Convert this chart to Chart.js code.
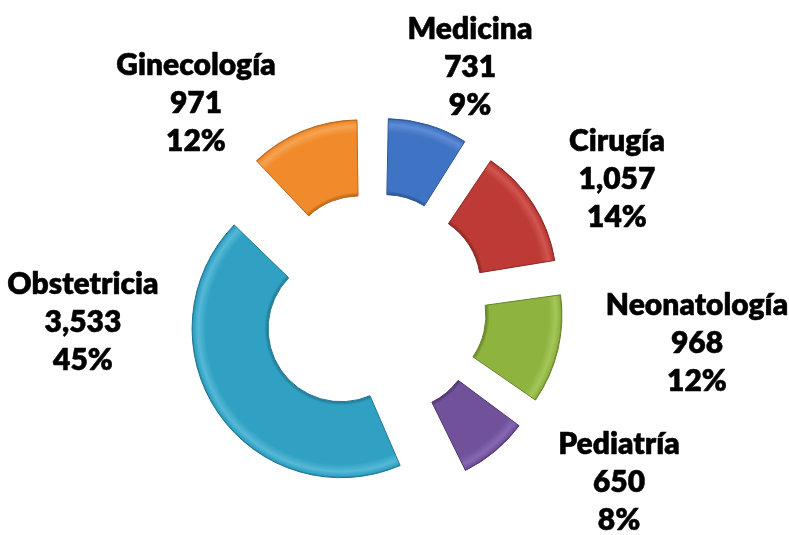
<!DOCTYPE html>
<html>
<head>
<meta charset="utf-8">
<script src="https://cdn.jsdelivr.net/npm/chart.js@4/dist/chart.umd.min.js"></script>
<style>
  html, body { margin: 0; padding: 0; background: #ffffff; }
  #wrap { width: 789px; height: 535px; position: relative; }
</style>
</head>
<body>
<div id="wrap"><canvas id="c" width="789" height="535"></canvas></div>
<script>
// ---- data ----
const categories = ['Medicina', 'Cirugía', 'Neonatología', 'Pediatría', 'Obstetricia', 'Ginecología'];
const values = [731, 1057, 968, 650, 3533, 971];
const valueLabels = ['731', '1,057', '968', '650', '3,533', '971'];
const percentLabels = ['9%', '14%', '12%', '8%', '45%', '12%'];

// ---- styles / layout ----
const baseColors = ['#3f73c3', '#bd3a36', '#8eb33f', '#70519a', '#30a1c3', '#f08a2a'];
const edgeColors = ['#2b5596', '#8c2623', '#66832a', '#4f3672', '#1f7792', '#b9651a'];
const lightColors = ['#5f8bd6', '#d05550', '#a4c659', '#8668b2', '#55b8d6', '#f6a352'];
// label anchor (middle line baseline) relative to the chart centre
const labelPlacement = [[96, -229], [243, -117], [323, 47], [245, 186], [-291, 26], [-178, -193]];
const OUTER_R = 149;
const EXPLODE = 160; // Chart.js translates arcs by offset/4

function ringGradient(ctx, i) {
  const chart = ctx.chart;
  const area = chart.chartArea;
  if (!area) return baseColors[i];
  const cx = (area.left + area.right) / 2;
  const cy = (area.top + area.bottom) / 2;
  const inner = OUTER_R * 0.49;
  const g = chart.ctx.createRadialGradient(cx, cy, inner, cx, cy, OUTER_R);
  g.addColorStop(0, edgeColors[i]);
  g.addColorStop(0.05, baseColors[i]);
  g.addColorStop(0.82, baseColors[i]);
  g.addColorStop(0.92, lightColors[i]);
  g.addColorStop(0.98, baseColors[i]);
  g.addColorStop(1, edgeColors[i]);
  return g;
}

const explodeFix = {
  id: 'explodeFix',
  afterDatasetsUpdate(chart) {
    const meta = chart.getDatasetMeta(0);
    meta.data.forEach(arc => {
      const off = (arc.options.offset || 0) / 4;
      const fix = 1 - Math.sin(Math.min(Math.PI, arc.circumference || 0));
      arc.outerRadius -= off * fix;
      arc.innerRadius -= off * fix;
    });
  }
};

const outsideLabels = {
  id: 'outsideLabels',
  afterDatasetsDraw(chart) {
    const meta = chart.getDatasetMeta(0);
    if (!meta.data.length) return;
    const cx = meta.data[0].x, cy = meta.data[0].y;
    const c = chart.ctx;
    c.save();
    c.font = '800 30px Lato, "Open Sans", sans-serif';
    c.fillStyle = '#000000';
    c.strokeStyle = '#000000';
    c.lineWidth = 0.5;
    c.lineJoin = 'round';
    c.textAlign = 'center';
    c.textBaseline = 'alphabetic';
    categories.forEach((name, i) => {
      const x = cx + labelPlacement[i][0];
      const y = cy + labelPlacement[i][1];
      [[name, -38], [valueLabels[i], 0], [percentLabels[i], 38]].forEach(([t, dy]) => {
        c.fillText(t, x, y + dy);
        c.strokeText(t, x, y + dy);
      });
    });
    c.restore();
  }
};

new Chart(document.getElementById('c'), {
  type: 'doughnut',
  data: {
    labels: categories,
    datasets: [{
      data: values,
      backgroundColor: (ctx) => ringGradient(ctx, ctx.dataIndex),
      borderColor: edgeColors,
      borderWidth: 1,
      offset: EXPLODE,
      hoverOffset: EXPLODE
    }]
  },
  options: {
    responsive: false,
    animation: false,
    radius: OUTER_R,
    cutout: '49%',
    layout: { padding: { left: 0, right: 41, top: 77, bottom: 0 } },
    plugins: {
      legend: { display: false },
      tooltip: { enabled: false }
    },
    events: []
  },
  plugins: [explodeFix, outsideLabels]
});
</script>
</body>
</html>
